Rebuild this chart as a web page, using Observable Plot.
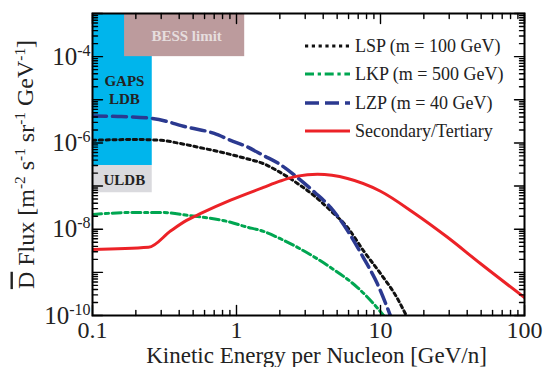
<!DOCTYPE html>
<html><head><meta charset="utf-8">
<script src="https://cdn.jsdelivr.net/npm/d3@7"></script>
<script src="https://cdn.jsdelivr.net/npm/@observablehq/plot@0.6"></script>
<style>
html,body{margin:0;padding:0;background:#fff;}
#chart svg{display:block;}
</style></head><body><div id="chart"></div>
<script>
// ---------- data ----------
const seriesNames = ["LSP (m = 100 GeV)", "LKP (m = 500 GeV)", "LZP (m = 40 GeV)", "Secondary/Tertiary"];

const lspE = [0.1, 0.2, 0.3, 0.4, 0.6, 0.8, 1.15, 1.54, 2.0, 2.65, 3.5, 4.5, 5.9, 7.6, 10, 13, 15.1];
const lspF = [1.15e-6, 1.2e-6, 1.15e-6, 9.8e-7, 7.4e-7, 6.0e-7, 4.4e-7, 3.3e-7, 2.1e-7, 1.15e-7, 5.8e-8, 2.7e-8, 1.1e-8, 3.2e-9, 9.4e-10, 2.6e-10, 1e-10];

const lkpE = [0.1, 0.2, 0.3, 0.46, 0.91, 1.15, 1.54, 2.0, 2.65, 4.5, 6.9, 9.5, 10.5];
const lkpF = [2.2e-8, 2.45e-8, 2.45e-8, 2.1e-8, 1.45e-8, 1.15e-8, 8.9e-9, 6.1e-9, 3.8e-9, 1.3e-9, 4.5e-10, 1.5e-10, 1e-10];

const lzpE = [0.1, 0.15, 0.26, 0.46, 0.7, 0.91, 1.15, 1.54, 2.0, 2.65, 3.5, 4.5, 5.9, 7.6, 9.5, 11.7];
const lzpF = [4.2e-6, 4.1e-6, 3.7e-6, 2.3e-6, 1.66e-6, 1.15e-6, 8.5e-7, 5.1e-7, 3.2e-7, 1.58e-7, 7.1e-8, 3.2e-8, 9.3e-9, 2.2e-9, 5.5e-10, 1e-10];

const secE = [0.1, 0.245, 0.35, 0.45, 0.57, 0.91, 1.54, 2.0, 2.65, 3.65, 5.9, 10, 16.9, 29.2, 49.4, 100];
const secF = [3.4e-9, 3.8e-9, 9.2e-9, 1.6e-8, 2.35e-8, 4.7e-8, 9.3e-8, 1.3e-7, 1.7e-7, 1.87e-7, 1.5e-7, 7.6e-8, 2.45e-8, 6.5e-9, 1.6e-9, 2.6e-10];

const regionNames = ["GAPS\nLDB", "ULDB", "BESS limit"];
const regionX1 = [0.1, 0.1, 0.167];
const regionX2 = [0.26, 0.26, 1.14];
const regionY1 = [3e-7, 7e-8, 1e-4];
const regionY2 = [1e-3, 3e-7, 1e-3];

const xTickValues = [0.1, 1, 10, 100];
const xTickLabels = ["0.1", "1", "10", "100"];
const yTickValues = [1e-10, 1e-8, 1e-6, 1e-4];
const yTickLabels = ["10^{-10}", "10^{-8}", "10^{-6}", "10^{-4}"];
const xLabel = "Kinetic Energy per Nucleon [GeV/n]";
const yLabel = "~{D} Flux [m^{-2} s^{-1} sr^{-1} GeV^{-1}]";

// ---------- styles ----------
const seriesStyle = [
  {stroke: "#111111", strokeWidth: 3, dash: "3.2,3.6"},
  {stroke: "#00a651", strokeWidth: 3, dash: "9,3.7,3.3,3.7"},
  {stroke: "#2b3990", strokeWidth: 3.5, dash: "14,6"},
  {stroke: "#ec2227", strokeWidth: 3, dash: null}
];
const regionStyle = [
  {fill: "#00b5ec", text: "#222222"},
  {fill: "#dadade", text: "#222222"},
  {fill: "#bc9b9d", text: "#e6dede"}
];
const FONT = "'Liberation Serif', 'Times New Roman', serif";

// ---------- tables ----------
const seriesE = [lspE, lkpE, lzpE, secE];
const seriesF = [lspF, lkpF, lzpF, secF];
const regions = regionNames.map((name, i) => ({
  name, i, x1: regionX1[i], x2: regionX2[i], y1: regionY1[i], y2: regionY2[i]
}));

// axis tick positions (major at decades, minor at 2..9)
const xDecades = [0.1, 1, 10];
const xMinor = xDecades.flatMap(d => d3.range(2, 10).map(k => k * d));
const yDecadesAll = d3.range(-10, -2).map(e => Math.pow(10, e));
const yMinor = d3.range(-10, -3).flatMap(e => d3.range(2, 10).map(k => k * Math.pow(10, e)));

const tickShape = {draw(ctx, l) { ctx.moveTo(0, 0); ctx.lineTo(0, -l); }};
function vticks(values, channel, frameAnchor, rotate, length) {
  return Plot.vector(values, {
    [channel]: d => d, frameAnchor, rotate, length, anchor: "start",
    shape: tickShape, stroke: "black", strokeWidth: 1.4
  });
}

const marks = [];
regions.forEach((r) => {
  marks.push(Plot.rect([r], {x1: "x1", x2: "x2", y1: "y1", y2: "y2", fill: regionStyle[r.i].fill}));
});
regions.forEach((r) => {
  marks.push(Plot.text([r], {
    x: d => Math.sqrt(d.x1 * d.x2), y: d => Math.sqrt(d.y1 * d.y2), text: "name",
    fill: regionStyle[r.i].text, fontWeight: "bold", fontSize: 15, lineHeight: 1.2, dx: 2
  }));
});
seriesNames.forEach((name, s) => {
  const data = seriesE[s].map((e, k) => ({E: e, F: seriesF[s][k]}));
  marks.push(Plot.line(data, {
    x: "E", y: "F", curve: "monotone-x", clip: true,
    stroke: seriesStyle[s].stroke, strokeWidth: seriesStyle[s].strokeWidth,
    strokeDasharray: seriesStyle[s].dash
  }));
});
// ticks on all four sides, pointing inward
marks.push(vticks(xTickValues, "x", "bottom", 0, 10));
marks.push(vticks(xTickValues, "x", "top", 180, 10));
marks.push(vticks(xMinor, "x", "bottom", 0, 5));
marks.push(vticks(xMinor, "x", "top", 180, 5));
marks.push(vticks(yDecadesAll, "y", "left", 90, 10));
marks.push(vticks(yDecadesAll, "y", "right", -90, 10));
marks.push(vticks(yMinor, "y", "left", 90, 5));
marks.push(vticks(yMinor, "y", "right", -90, 5));
marks.push(Plot.frame({stroke: "black", strokeWidth: 2}));
// tick labels
marks.push(Plot.text(xTickValues, {
  x: d => d, text: (d, i) => xTickLabels[i], frameAnchor: "bottom",
  lineAnchor: "top", textAnchor: "middle", dy: 5, fontSize: 24, fill: "#222"
}));
marks.push(Plot.text(yTickValues, {
  y: d => d, text: (d, i) => yTickLabels[i], frameAnchor: "left",
  textAnchor: "end", dx: -2, fontSize: 25, fill: "#222"
}));
// axis labels
marks.push(Plot.text([xLabel], {
  text: d => d, frameAnchor: "bottom", lineAnchor: "bottom", textAnchor: "middle", dy: 47, dx: 8,
  fontSize: 23, fill: "#222"
}));
marks.push(Plot.text([yLabel], {
  text: d => d, frameAnchor: "left", lineAnchor: "bottom", textAnchor: "middle", rotate: -90, dx: -59,
  fontSize: 24, fill: "#222"
}));

const plot = Plot.plot({
  width: 548, height: 367,
  marginLeft: 92, marginRight: 24, marginTop: 13, marginBottom: 52,
  x: {type: "log", domain: [0.1, 100]},
  y: {type: "log", domain: [1e-10, 1e-3]},
  axis: null,
  style: {fontFamily: FONT, fontSize: "18px", background: "white", overflow: "visible"},
  marks
});
document.getElementById("chart").appendChild(plot);

// ---------- rich text: ^{sup} and ~{overline} ----------
function richify(el) {
  const s = el.textContent;
  if (!/[\^~]\{/.test(s)) return;
  const parts = s.match(/\^\{[^}]*\}|~\{[^}]*\}|[^\^~]+/g);
  el.textContent = "";
  const R = 0.36, SZ = 0.64;
  let raised = false;
  const ns = "http://www.w3.org/2000/svg";
  parts.forEach(p => {
    const t = document.createElementNS(ns, "tspan");
    if (p.startsWith("^{")) {
      t.textContent = p.slice(2, -1);
      t.setAttribute("font-size", SZ + "em");
      t.setAttribute("dy", (-R / SZ).toFixed(3) + "em");
      raised = true;
    } else {
      if (p.startsWith("~{")) {
        t.textContent = p.slice(2, -1);
        t.setAttribute("text-decoration", "overline");
      } else t.textContent = p;
      if (raised) { t.setAttribute("dy", R + "em"); raised = false; }
    }
    el.appendChild(t);
  });
}
d3.select(plot).selectAll("text").each(function() { richify(this); });

// ---------- legend (inside plot, top right) ----------
const lg = d3.select(plot).append("g").attr("font-family", FONT).attr("font-size", 18)
  .attr("text-anchor", "start");
const rowY = [46, 74, 103, 131];
seriesNames.forEach((name, s) => {
  lg.append("line").attr("x1", 305).attr("x2", 350).attr("y1", rowY[s]).attr("y2", rowY[s])
    .attr("stroke", seriesStyle[s].stroke).attr("stroke-width", seriesStyle[s].strokeWidth)
    .attr("stroke-dasharray", seriesStyle[s].dash);
  lg.append("text").attr("x", 355).attr("y", rowY[s]).attr("dy", "0.32em")
    .attr("text-anchor", "start").attr("fill", "#222").text(name);
});
</script>
</body></html>
